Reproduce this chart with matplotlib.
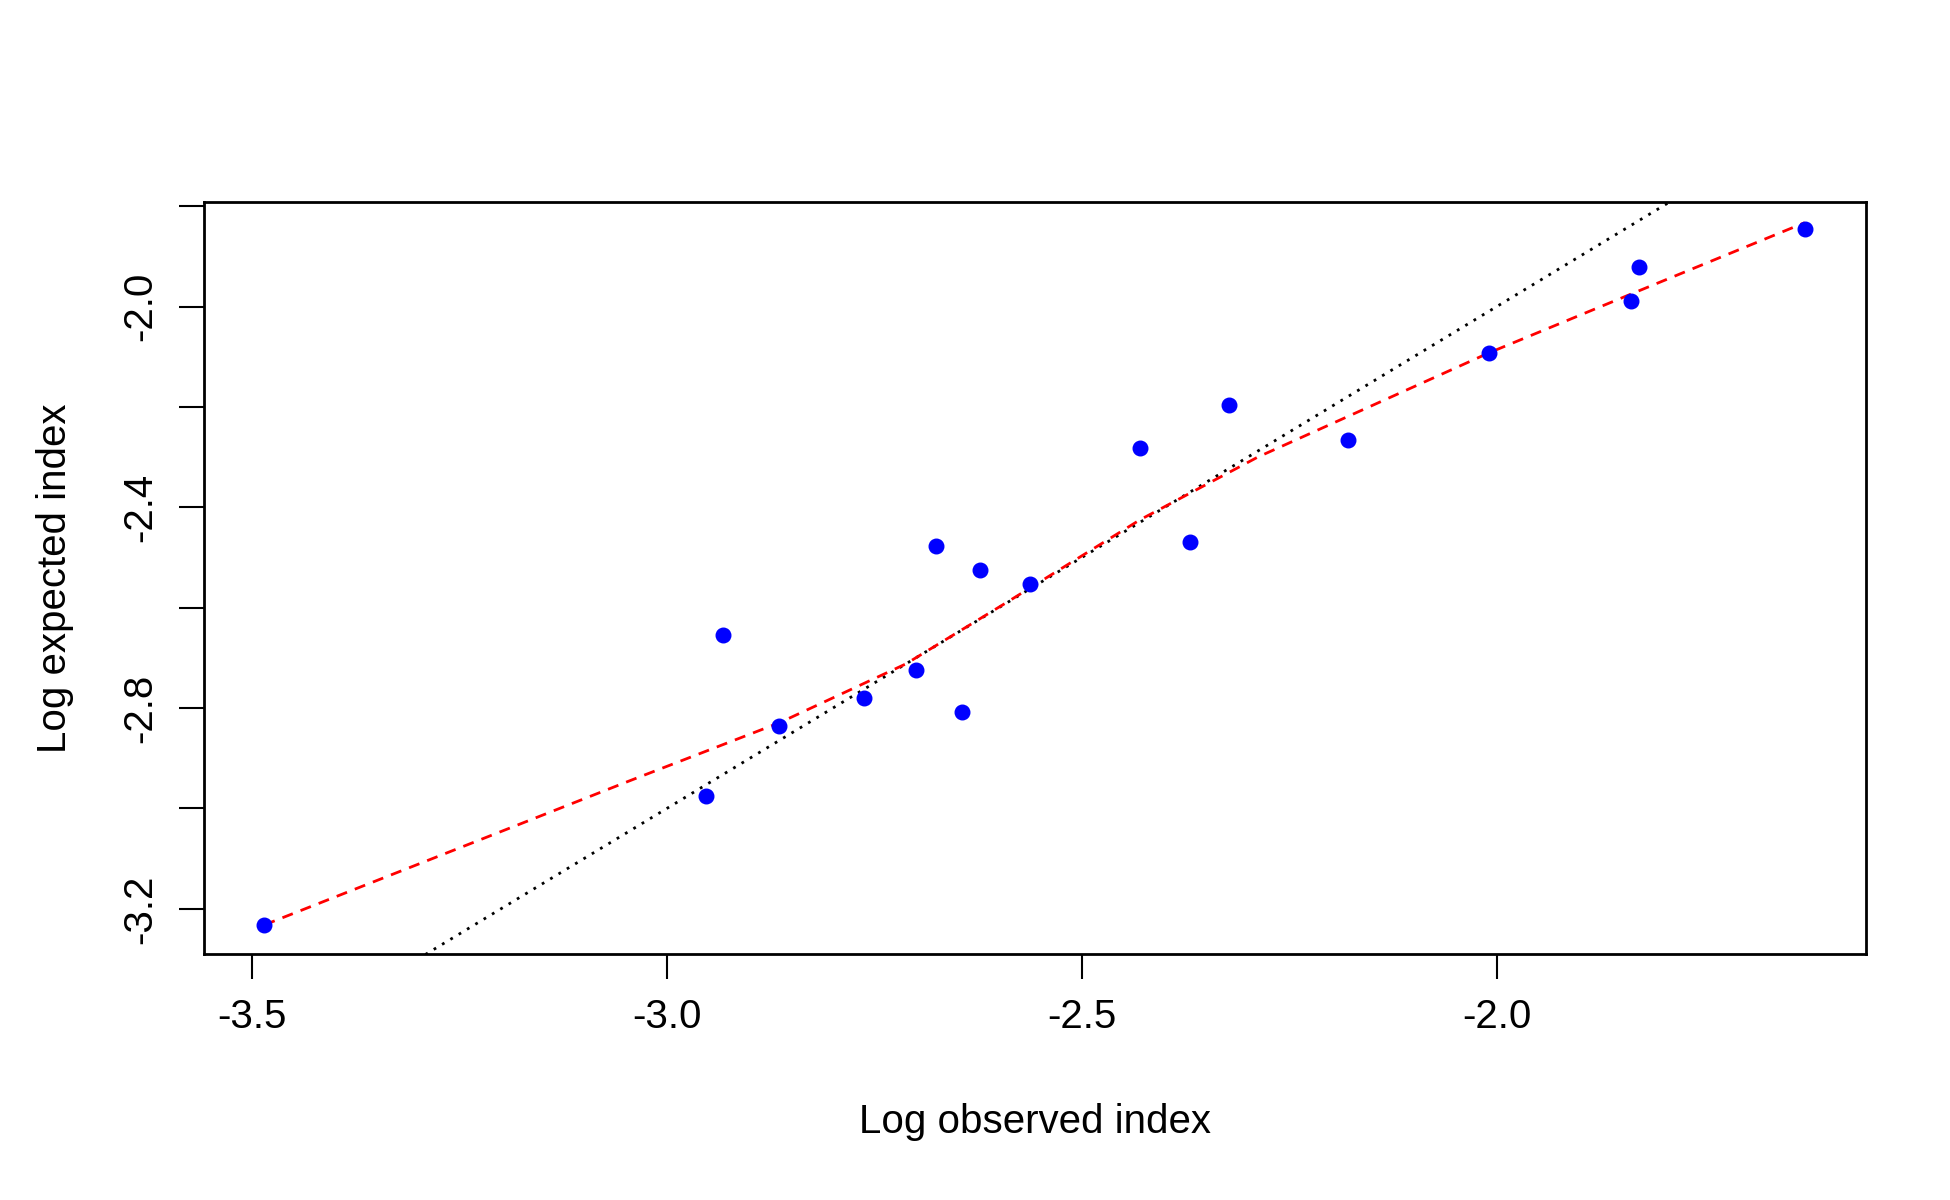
import numpy as np
import matplotlib.pyplot as plt

# observed vs expected (log)
log_obs = [-3.485, -2.953, -2.932, -2.865, -2.762, -2.700, -2.676, -2.644, -2.623,
           -2.562, -2.430, -2.370, -2.323, -2.179, -2.009, -1.838, -1.829, -1.629]
log_exp = [-3.232, -2.976, -2.655, -2.835, -2.779, -2.724, -2.478, -2.807, -2.525,
           -2.553, -2.281, -2.470, -2.196, -2.266, -2.092, -1.990, -1.921, -1.846]

# smoothed fit (red dashed)
fit_x = [-3.485, -3.045, -2.864, -2.712, -2.591, -2.430, -2.288, -2.009, -1.838, -1.629]
fit_y = [-3.232, -2.945, -2.829, -2.712, -2.590, -2.425, -2.300, -2.092, -1.975, -1.833]

y_ticks = [-3.2, -3.0, -2.8, -2.6, -2.4, -2.2, -2.0, -1.8]
y_labels = ["-3.2", "", "-2.8", "", "-2.4", "", "-2.0", ""]
x_ticks = [-3.5, -3.0, -2.5, -2.0]

plt.rcParams["font.family"] = "Liberation Sans"
fig = plt.figure(figsize=(19.5, 12), dpi=100)
ax = fig.add_axes([0.1045, 0.205, 0.8525, 0.627])

ax.plot([-4, -1], [-4, -1], color="black", linestyle=(0, (1, 2.5)), linewidth=2)
ax.plot(fit_x, fit_y, color="red", linestyle=(0, (4, 3)), linewidth=2)
ax.scatter(log_obs, log_exp, color="blue", s=110, zorder=3)

ax.set_xlim(-3.558, -1.555)
ax.set_ylim(-3.290, -1.791)
ax.set_xticks(x_ticks)
ax.set_xticklabels([f"{v:.1f}" for v in x_ticks])
ax.set_yticks(y_ticks)
ax.set_yticklabels(y_labels, rotation=90, va="center")
ax.tick_params(labelsize=29, length=18, width=1.5, pad=14)
for s in ax.spines.values():
    s.set_linewidth(2)

ax.set_xlabel("Log observed index", fontsize=29, labelpad=48)
ax.set_ylabel("Log expected index", fontsize=29, labelpad=34)

fig.savefig("out.png", dpi=100)
